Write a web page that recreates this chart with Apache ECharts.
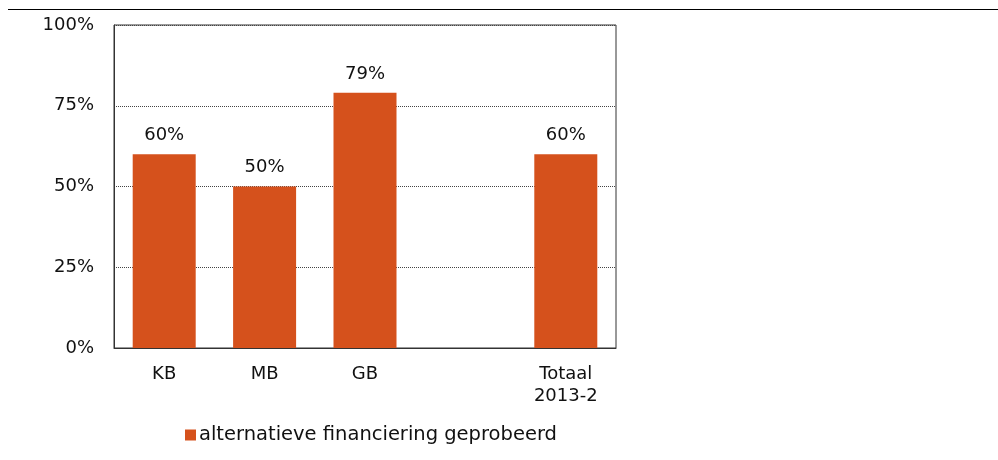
<!DOCTYPE html>
<html>
<head>
<meta charset="utf-8">
<script src="https://cdn.jsdelivr.net/npm/echarts@6/dist/echarts.min.js"></script>
<style>
  html, body { margin: 0; padding: 0; background: #fff; }
  #chart { width: 998px; height: 460px; }
</style>
</head>
<body>
<div id="chart"></div>
<script>
  const categories = ['KB', 'MB', 'GB', '', 'Totaal\n2013-2']
  const values = [60, 50, 79, '-', 60]
  const seriesName = 'alternatieve financiering geprobeerd'

  const font = 'Verdana, "DejaVu Sans", sans-serif'
  const chart = echarts.init(document.getElementById('chart'))

  const option = {
    animation: false,
    textStyle: { fontFamily: font },
    grid: {
      left: 114,
      top: 25,
      width: 502,
      height: 323,
      show: true,
      borderColor: '#333',
      borderWidth: 1
    },
    legend: {
      left: 185,
      top: 425,
      padding: 0,
      itemWidth: 11,
      itemHeight: 11,
      itemGap: 10,
      icon: 'rect',
      textStyle: { fontSize: 19.5, color: '#111', fontFamily: font, padding: [0, 0, 0, -2] },
      data: [seriesName]
    },
    xAxis: {
      type: 'category',
      data: categories,
      axisLine: { lineStyle: { color: '#333' } },
      axisTick: { show: false },
      axisLabel: { fontSize: 18, color: '#111', margin: 15, lineHeight: 22, interval: 0 }
    },
    yAxis: {
      type: 'value',
      min: 0,
      max: 100,
      interval: 25,
      axisLine: { show: true, lineStyle: { color: '#333' } },
      axisTick: { show: false },
      axisLabel: { fontSize: 18, color: '#111', margin: 20, formatter: '{value}%' },
      splitLine: { lineStyle: { type: 'dotted', color: '#444', width: 1 } }
    },
    series: [
      {
        name: seriesName,
        type: 'bar',
        data: values,
        barWidth: 63,
        itemStyle: { color: '#d5511c' },
        label: {
          show: true,
          position: 'top',
          distance: 10,
          fontSize: 18,
          color: '#111',
          formatter: '{c}%'
        }
      }
    ],
    graphic: [
      {
        type: 'line',
        shape: { x1: 8, y1: 9.5, x2: 998, y2: 9.5 },
        style: { stroke: '#000', lineWidth: 1 }
      }
    ]
  }

  chart.setOption(option)
  window.onresize = () => {
    chart.resize()
  }
</script>
</body>
</html>
